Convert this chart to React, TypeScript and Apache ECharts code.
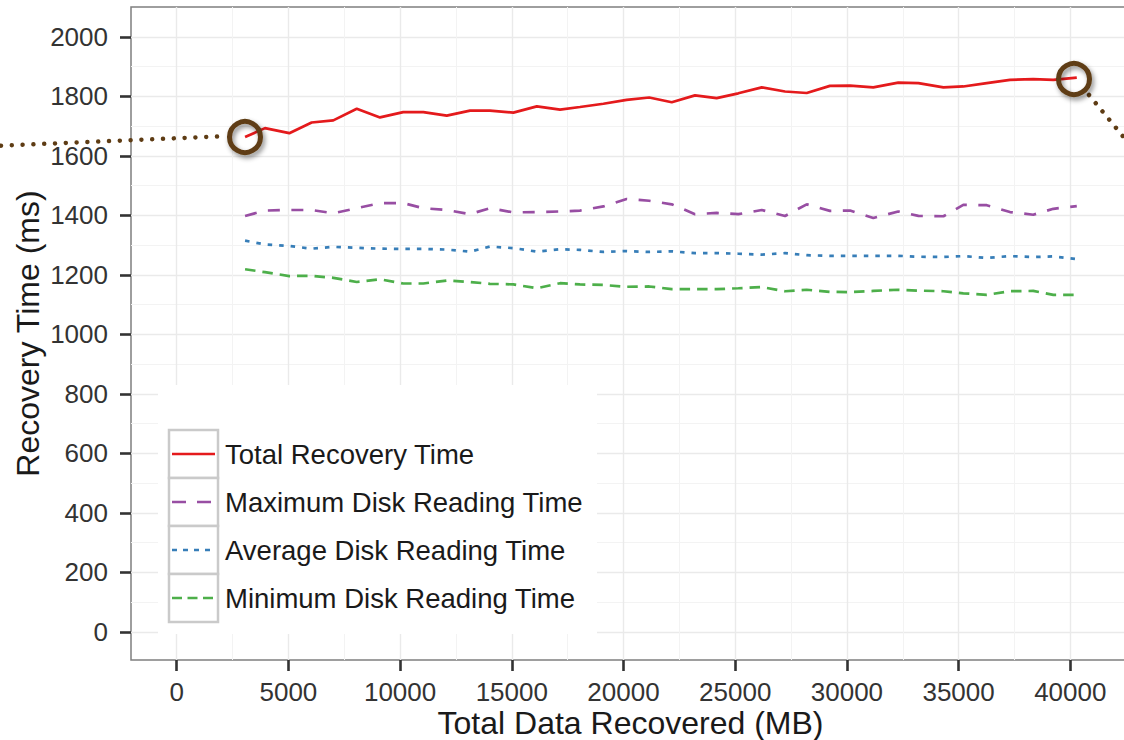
import React, { useEffect, useRef } from 'react';
import * as echarts from 'echarts';

// Total data recovered (MB), shared by all series
const dataRecovered = [
  3060, 3950, 5040, 6040, 7010, 8060, 9100, 10140, 11040, 12090,
  13130, 14020, 15070, 16120, 17160, 18050, 19100, 20140, 21150, 22160,
  23200, 24170, 25140, 26190, 27230, 28200, 29240, 30140, 31180, 32300,
  33200, 34320, 35210, 36260, 37300, 38340, 39240, 40290,
];

const totalRecovery = [
  1663, 1693, 1676, 1712, 1719, 1758, 1729, 1747, 1747, 1735,
  1752, 1752, 1745, 1766, 1755, 1764, 1775, 1788, 1796, 1780,
  1803, 1794, 1810, 1830, 1816, 1811, 1835, 1836, 1830, 1846,
  1844, 1830, 1833, 1844, 1855, 1858, 1855, 1863,
];

const maxDiskReading = [
  1398, 1416, 1418, 1418, 1407, 1424, 1441, 1441, 1424, 1418,
  1404, 1424, 1410, 1411, 1413, 1416, 1430, 1455, 1449, 1437,
  1404, 1408, 1404, 1418, 1398, 1437, 1415, 1416, 1391, 1413,
  1398, 1397, 1435, 1434, 1411, 1402, 1422, 1431,
];

const avgDiskReading = [
  1315, 1302, 1297, 1288, 1294, 1291, 1288, 1287, 1287, 1285,
  1278, 1295, 1290, 1278, 1286, 1284, 1277, 1280, 1277, 1279,
  1273, 1273, 1271, 1268, 1273, 1266, 1264, 1264, 1264, 1264,
  1261, 1260, 1263, 1257, 1263, 1260, 1262, 1253,
];

const minDiskReading = [
  1219, 1209, 1196, 1197, 1190, 1176, 1185, 1171, 1171, 1181,
  1176, 1170, 1168, 1155, 1172, 1168, 1166, 1160, 1161, 1152,
  1152, 1152, 1155, 1159, 1145, 1150, 1143, 1142, 1146, 1150,
  1147, 1145, 1138, 1133, 1145, 1146, 1133, 1133,
];

const seriesNames = [
  'Total Recovery Time',
  'Maximum Disk Reading Time',
  'Average Disk Reading Time',
  'Minimum Disk Reading Time',
];

const xMajorTicks = [0, 5000, 10000, 15000, 20000, 25000, 30000, 35000, 40000];
const xMinorTicks = [2500, 7500, 12500, 17500, 22500, 27500, 32500, 37500, 42500];
const yMajorTicks = [0, 200, 400, 600, 800, 1000, 1200, 1400, 1600, 1800, 2000];
const yMinorTicks = [100, 300, 500, 700, 900, 1100, 1300, 1500, 1700, 1900];

const xTitle = 'Total Data Recovered (MB)';
const yTitle = 'Recovery Time (ms)';

const FONT = '"Liberation Sans", Arial, Helvetica, sans-serif';
const X_MIN = -2046;
const X_MAX = 42672;
const Y_MIN = -94;
const Y_MAX = 2100;

const colors = ['#E41A1C', '#984EA3', '#377EB8', '#4DAF4A'];
const dashes: any[] = ['solid', [12, 11.5], [4.5, 7], [10.5, 7]];
const legendDashes: any[] = [null, [14, 11], [5, 6], [10, 5.5]];
const BROWN = '#5E3C14';

export default function App() {
  const ref = useRef<HTMLDivElement>(null);

  useEffect(() => {
    if (!ref.current) return;
    const chart = echarts.init(ref.current, null, { renderer: 'svg' });

    const values = [totalRecovery, maxDiskReading, avgDiskReading, minDiskReading];

    const series = values.map((vals, k) => ({
      type: 'line',
      name: seriesNames[k],
      xAxisIndex: 0,
      yAxisIndex: 0,
      data: dataRecovered.map((x, i) => [x, vals[i]]),
      symbol: 'none',
      showSymbol: false,
      lineStyle: { color: colors[k], width: 2.7, type: dashes[k], cap: 'butt' },
      itemStyle: { color: colors[k] },
      z: 5,
    }));

    const graphic: any[] = [];
    // legend background
    graphic.push({
      type: 'rect', z: 50,
      shape: { x: 158, y: 385, width: 439, height: 249 },
      style: { fill: '#FFFFFF' },
    });
    seriesNames.forEach((name, k) => {
      const top = 430 + 48 * k;
      const cy = top + 24;
      graphic.push({
        type: 'rect', z: 51,
        shape: { x: 169, y: top, width: 49, height: 48 },
        style: { fill: '#FFFFFF', stroke: '#CACACA', lineWidth: 2.5 },
      });
      graphic.push({
        type: 'line', z: 52,
        shape: { x1: 172, y1: cy, x2: 215, y2: cy },
        style: { stroke: colors[k], lineWidth: 2.7, lineDash: legendDashes[k] || undefined },
      });
      graphic.push({
        type: 'text', z: 52, x: 225, y: cy,
        style: {
          text: name, fontSize: 27.5, fontFamily: FONT, fill: '#1A1A1A',
          verticalAlign: 'middle', align: 'left',
        },
      });
    });
    // annotation dotted leaders
    graphic.push({
      type: 'line', z: 60,
      shape: { x1: 1, y1: 145.7, x2: 218, y2: 136.5 },
      style: { stroke: BROWN, lineWidth: 4.5, lineDash: [0.01, 10.8], lineCap: 'round' },
    });
    graphic.push({
      type: 'line', z: 60,
      shape: { x1: 1089, y1: 95, x2: 1140, y2: 157 },
      style: { stroke: BROWN, lineWidth: 4.5, lineDash: [0.01, 10.6], lineCap: 'round' },
    });
    // annotation circles
    [[245, 137], [1074, 79]].forEach(([cx, cy]) => {
      graphic.push({
        type: 'circle', z: 61,
        shape: { cx, cy, r: 15.5 },
        style: {
          fill: 'none', stroke: BROWN, lineWidth: 5,
          shadowBlur: 5, shadowColor: 'rgba(0,0,0,0.45)', shadowOffsetX: 2, shadowOffsetY: 3,
        },
      });
    });

    const option: any = {
      animation: false,
      backgroundColor: '#FFFFFF',
      textStyle: { fontFamily: FONT },
      legend: { show: false, data: seriesNames },
      grid: {
        left: 131, top: 7, right: 0, bottom: 80,
        outerBoundsMode: 'none',
        show: true, borderColor: '#7F7F7F', borderWidth: 1.5,
        backgroundColor: 'rgba(0,0,0,0)',
      },
      xAxis: [
        {
          type: 'value', min: X_MIN, max: X_MAX, position: 'bottom',
          name: xTitle, nameLocation: 'middle', nameGap: 47, nameMoveOverlap: false,
          nameTextStyle: { fontSize: 32, color: '#1A1A1A', fontFamily: FONT },
          axisLine: { show: false, onZero: false },
          axisTick: {
            show: true, length: 11, customValues: xMajorTicks,
            lineStyle: { color: '#333333', width: 2.6 },
          },
          axisLabel: {
            customValues: xMajorTicks, fontSize: 26, color: '#333333', margin: 19,
            fontFamily: FONT, formatter: (v: number) => String(v),
          },
          splitLine: { show: true, lineStyle: { color: '#EAEAEA', width: 1.4 } },
        },
        {
          type: 'value', min: X_MIN, max: X_MAX, position: 'bottom',
          axisLine: { show: false, onZero: false },
          axisTick: { show: false, customValues: xMinorTicks },
          axisLabel: { show: false },
          splitLine: { show: true, lineStyle: { color: '#F3F3F3', width: 1 } },
        },
      ],
      yAxis: [
        {
          type: 'value', min: Y_MIN, max: Y_MAX, position: 'left',
          name: yTitle, nameLocation: 'middle', nameGap: 87, nameMoveOverlap: false,
          nameTextStyle: { fontSize: 32, color: '#1A1A1A', fontFamily: FONT },
          axisLine: { show: false, onZero: false },
          axisTick: {
            show: true, length: 11, customValues: yMajorTicks,
            lineStyle: { color: '#333333', width: 2.6 },
          },
          axisLabel: {
            customValues: yMajorTicks, fontSize: 26, color: '#333333', margin: 23,
            fontFamily: FONT, formatter: (v: number) => String(v),
          },
          splitLine: { show: true, lineStyle: { color: '#EAEAEA', width: 1.4 } },
        },
        {
          type: 'value', min: Y_MIN, max: Y_MAX, position: 'left',
          axisLine: { show: false, onZero: false },
          axisTick: { show: false, customValues: yMinorTicks },
          axisLabel: { show: false },
          splitLine: { show: true, lineStyle: { color: '#F3F3F3', width: 1 } },
        },
      ],
      series,
      graphic,
    };

    chart.setOption(option);
    return () => chart.dispose();
  }, []);

  return (
    <div
      style={{
        position: 'absolute', left: 0, top: 0, width: 1124, height: 740,
        overflow: 'hidden',
      }}
    >
      <div ref={ref} style={{ width: 1130, height: 740 }} />
    </div>
  );
}
